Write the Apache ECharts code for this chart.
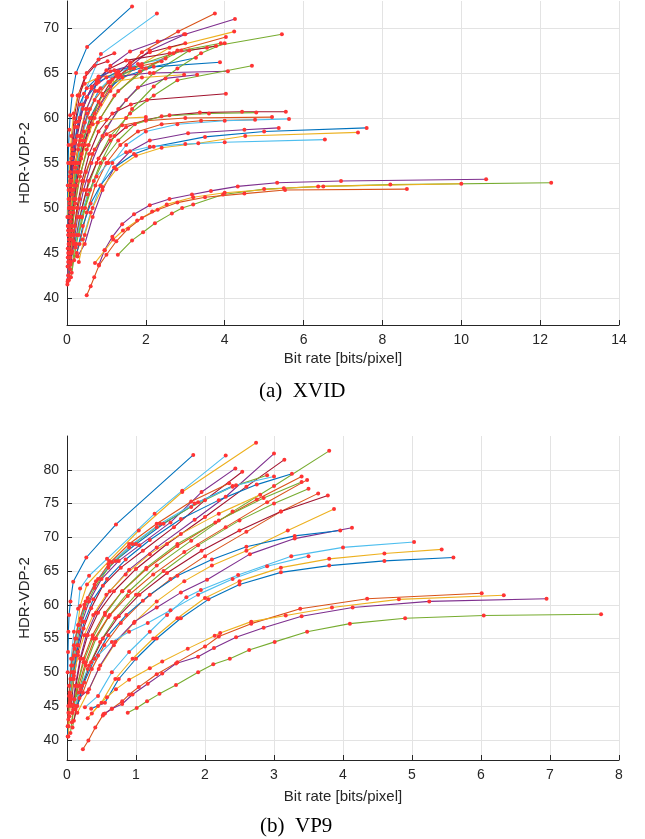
<!DOCTYPE html>
<html><head><meta charset="utf-8">
<script src="https://cdn.jsdelivr.net/npm/echarts@6/dist/echarts.min.js"></script>
<style>html,body{margin:0;padding:0;background:#fff}#c{width:645px;height:839px}</style>
</head><body><div id="c"></div>
<script>
// ---------- DATA ----------
const xTicksXvid = [0, 2, 4, 6, 8, 10, 12, 14];
const xTicksVp9 = [0, 1, 2, 3, 4, 5, 6, 7, 8];
const yTicksXvid = [40, 45, 50, 55, 60, 65, 70];
const yTicksVp9 = [40, 45, 50, 55, 60, 65, 70, 75, 80];
const xLabel = 'Bit rate [bits/pixel]';
const yLabel = 'HDR-VDP-2';
const captions = ['(a)  XVID', '(b)  VP9'];

// XVID curves: [bit rate, HDR-VDP-2]
const xvidCurves = [
 [[0.01,49],[0.02,52.5],[0.03,55],[0.04,57],[0.06,58.7],[0.08,60.3],[0.13,62.5],[0.23,65],[0.51,67.9],[1.65,72.4]],
 [[0.02,48],[0.04,51],[0.07,53.5],[0.11,55.5],[0.18,57.2],[0.28,59.6],[0.43,62.7],[0.86,67.1],[2.28,71.6]],
 [[0.04,42.5],[0.09,47],[0.14,50],[0.2,52.5],[0.3,55],[0.45,57.5],[0.7,60.5],[1.1,63.5],[1.9,67.3],[2.82,69.6],[3.75,71.6]],
 [[0.05,42],[0.1,46.5],[0.16,49.5],[0.24,52.5],[0.36,55.5],[0.55,58.5],[0.85,61.5],[1.35,64.8],[2.1,67.5],[3.0,69.3],[4.26,71.0]],
 [[0.08,43.2],[0.17,47],[0.27,50],[0.42,53],[0.65,56],[1.0,59],[1.5,62],[2.2,65],[3.1,67.5],[5.45,69.3]],
 [[0.07,45],[0.12,48],[0.19,51],[0.3,54],[0.46,57],[0.7,60],[1.1,63],[1.7,65.5],[2.6,67.8],[4.24,69.6]],
 [[0.08,44.5],[0.13,47.5],[0.21,50.5],[0.33,53.5],[0.5,56.5],[0.78,59.5],[1.2,62.5],[1.85,65.2],[2.8,67.5],[4.03,69.0]],
 [[0.04,46],[0.07,49],[0.11,52],[0.17,55],[0.26,58],[0.4,61],[0.63,63.5],[1.0,65.3],[1.5,66.4],[2.6,67.2],[3.55,67.8],[3.78,68.0]],
 [[0.05,45.5],[0.09,48.5],[0.14,51.5],[0.22,54.5],[0.34,57.5],[0.52,60.5],[0.8,63],[1.25,64.7],[1.9,65.6],[3.88,66.2]],
 [[0.06,45],[0.1,48],[0.16,51],[0.25,54],[0.38,57],[0.58,60],[0.9,62.7],[1.4,64.5],[2.2,65.7],[3.27,66.7]],
 [[0.04,47],[0.07,50],[0.11,53],[0.17,56],[0.26,59],[0.4,61.5],[0.62,63.3],[1.0,64.5],[2.1,65.0],[4.08,65.2]],
 [[0.1,42.3],[0.2,46],[0.32,49],[0.5,52],[0.75,55],[1.1,58],[1.6,60.5],[2.2,62.5],[2.8,64.2],[4.69,65.8]],
 [[0.05,46],[0.09,49],[0.14,52],[0.21,55],[0.32,58],[0.48,61],[0.72,63],[1.1,64],[1.9,64.5],[2.97,64.8]],
 [[0.1,44],[0.16,47],[0.25,50],[0.38,53],[0.56,56],[0.8,58.5],[1.15,60.5],[1.62,61.5],[2.03,62.0],[4.03,62.7]],
 [[0.13,45.2],[0.25,47],[0.38,50],[0.55,53],[0.8,55.5],[1.1,57.5],[1.5,59.0],[2.0,59.8],[2.6,60.3],[3.37,60.6],[4.44,60.7],[5.55,60.7]],
 [[0.12,45],[0.2,48],[0.32,51],[0.48,54],[0.7,56.5],[1.0,58.2],[1.4,59.2],[2.0,59.7],[3.0,60.0],[5.2,60.1]],
 [[0.18,44.2],[0.32,46],[0.5,49.5],[0.72,52.5],[1.0,55],[1.35,57],[1.8,58.5],[2.4,59.3],[3.4,59.7],[4.77,59.8]],
 [[0.22,45.6],[0.4,46.5],[0.6,49.5],[0.85,52.5],[1.15,55],[1.5,57],[2.0,58.5],[2.8,59.3],[4.0,59.7],[5.63,59.9]],
 [[0.16,46.3],[0.3,47],[0.46,50],[0.68,53],[0.95,55.5],[1.3,57.5],[1.72,59.3],[2.4,60.2],[3.6,60.5],[4.8,60.6]],
 [[0.27,44.6],[0.45,46],[0.65,49],[0.9,52],[1.2,54.5],[1.6,56.3],[2.1,57.5],[3.07,58.3],[4.5,58.7],[5.37,58.9]],
 [[0.25,45],[0.4,48],[0.6,50.5],[0.85,52.5],[1.2,54.5],[1.7,56.0],[2.2,56.8],[3.5,57.9],[5.0,58.5],[7.6,58.9]],
 [[0.3,44],[0.45,47],[0.65,50],[0.9,52.3],[1.25,54.3],[1.75,55.8],[2.4,56.7],[3.33,57.2],[4.52,58.0],[7.38,58.4]],
 [[0.22,46],[0.35,49],[0.52,51.5],[0.75,53.5],[1.05,55],[1.5,56.2],[2.1,56.8],[3.0,57.1],[4.0,57.3],[6.54,57.6]],
 [[0.81,43.7],[0.95,45.3],[1.15,46.8],[1.4,48.2],[1.7,49.3],[2.1,50.3],[2.6,51.0],[3.17,51.5],[3.65,51.9],[4.33,52.4],[5.33,52.8],[6.95,53.0],[10.63,53.2]],
 [[1.29,44.8],[1.65,46.4],[1.93,47.3],[2.23,48.3],[2.66,49.4],[2.92,50.0],[3.2,50.4],[3.96,51.5],[5.0,52.1],[6.5,52.4],[8.2,52.6],[12.28,52.8]],
 [[0.71,43.9],[0.96,45.3],[1.17,46.5],[1.42,47.5],[1.78,48.6],[2.16,49.6],[2.53,50.4],[3.2,51.2],[4.0,51.7],[5.5,52.2],[6.37,52.4],[10.0,52.7]],
 [[0.5,40.3],[0.6,41.3],[0.69,42.3],[0.81,43.6],[1.0,44.8],[1.25,46.3],[1.55,47.7],[1.9,48.9],[2.3,49.8],[2.8,50.6],[3.5,51.2],[4.5,51.6],[5.53,52.0],[8.62,52.1]],
 [[0.08,45],[0.14,48],[0.22,51],[0.35,54],[0.55,57],[0.85,60],[1.3,63],[2.0,65.5],[2.9,67.5],[3.9,68.3]],
 [[0.05,46],[0.09,49],[0.14,52],[0.22,55],[0.33,58],[0.5,61],[0.75,63.8],[1.1,65.8],[1.6,67.4],[2.3,68.5],[2.97,69.3]],
 [[0.03,48],[0.05,51],[0.08,54],[0.12,57],[0.18,60],[0.28,62.5],[0.45,64.5],[0.7,65.8],[1.03,66.3]],
 [[0.06,46],[0.1,49],[0.16,52],[0.25,55],[0.38,58],[0.58,61],[0.85,63.3],[1.25,65],[1.8,66],[2.5,66.6]],
 [[0.12,42.8],[0.24,46],[0.38,49],[0.58,52],[0.85,55],[1.2,58],[1.65,61],[2.2,63.5],[2.8,65.5],[3.4,67.2],[4.0,68.3]],
 [[0.03,47],[0.05,50],[0.08,53],[0.13,56],[0.2,59],[0.32,61.5],[0.5,63.3],[0.8,64.6],[1.2,65.3],[1.85,65.8]],
 [[0.02,49],[0.04,52],[0.07,55],[0.11,58],[0.17,60.5],[0.27,62.5],[0.45,63.8],[0.8,64.5],[1.3,64.9]],
 [[0.06,44],[0.1,47],[0.16,50],[0.25,53],[0.37,56],[0.55,59],[0.8,61.8],[1.15,64.3],[1.6,66.2],[2.1,67.3],[3.0,68.3]],
 [[0.09,43.7],[0.17,46],[0.27,49],[0.42,52],[0.62,55],[0.9,58],[1.3,61],[1.8,63.4],[2.5,64.4],[3.3,64.8]],
 [[0.01,41.5],[0.015,43.5],[0.02,45.5],[0.03,47.5],[0.05,50],[0.08,52.5],[0.13,55],[0.2,57.5],[0.32,60],[0.5,62.3],[0.8,64],[1.3,65.2]],
 [[0.02,42],[0.035,44.5],[0.055,47],[0.085,49.5],[0.13,52],[0.2,54.5],[0.3,57],[0.45,59.5],[0.7,62],[1.05,64],[1.6,65.5],[2.4,66.3]],
 [[0.03,42.5],[0.05,45],[0.08,47.5],[0.12,50],[0.18,52.5],[0.27,55],[0.4,57.5],[0.6,60],[0.9,62.5],[1.3,64.5],[1.9,66],[2.7,67.2]],
 [[0.03,44],[0.05,46.5],[0.08,49],[0.12,51.5],[0.18,54],[0.28,56.5],[0.43,58.5],[0.65,59.3],[1.0,59.8],[1.5,60.0],[2.0,60.1]],
 [[0.015,41.8],[0.03,45],[0.045,47.5],[0.07,50],[0.1,52.5],[0.15,55],[0.22,57.5],[0.33,60],[0.5,62.3],[0.75,64.2],[1.1,65.2],[1.6,65.8]],
 [[0.02,44.5],[0.04,47.5],[0.06,50.5],[0.09,53.5],[0.14,56.5],[0.21,59.5],[0.32,62.5],[0.5,65],[0.8,66.5],[1.2,67.2]]
];
const xvidColorIdx = [0,5,1,3,4,2,1,6,0,0,3,4,2,6,6,1,1,5,4,3,0,2,5,3,4,2,1,4,3,6,5,4,0,2,6,3,0,1,4,2,3,6];

// VP9 curves: [bit rate, HDR-VDP-2]
const vp9Curves = [
 [[0.01,50],[0.015,53],[0.02,56],[0.03,58.5],[0.05,60.5],[0.09,63.4],[0.28,67.0],[0.71,71.9],[1.83,82.2]],
 [[0.03,48],[0.06,52],[0.1,56],[0.16,59.4],[0.19,62.4],[0.32,64.3],[0.58,66.8],[1.27,73.5],[1.67,76.9],[2.3,82.1]],
 [[0.04,47],[0.08,51],[0.13,55],[0.19,59.8],[0.29,63.0],[0.61,66.5],[1.04,71.0],[1.67,76.7],[2.74,84.0]],
 [[0.05,46],[0.09,50],[0.15,54],[0.22,57.5],[0.32,60.5],[0.5,63.8],[0.75,66.5],[1.05,68.8],[1.5,72.2],[1.95,76.7],[2.44,80.2]],
 [[0.06,45],[0.1,49],[0.16,53],[0.24,56.5],[0.35,59.5],[0.52,62.8],[0.78,65.5],[1.1,68],[1.55,71.5],[2.0,75.5],[2.54,79.7]],
 [[0.07,44],[0.12,48],[0.19,52],[0.28,55.5],[0.42,58.8],[0.62,62],[0.9,65.2],[1.3,68.5],[1.85,72.6],[2.3,76],[3.0,82.4]],
 [[0.08,44],[0.13,48],[0.2,52],[0.3,55.5],[0.45,58.8],[0.68,62],[1.0,65.3],[1.45,69],[2.0,73],[2.6,77.5],[3.15,81.5]],
 [[0.08,41.8],[0.17,47],[0.27,51],[0.42,55],[0.62,58.5],[0.9,62],[1.3,65.8],[1.8,69.5],[2.4,73.8],[3.0,77.6],[3.8,82.8]],
 [[0.06,46],[0.1,50],[0.16,54],[0.25,57.5],[0.38,60.8],[0.58,63.8],[0.85,66.7],[1.2,69.6],[1.65,72.7],[2.2,75.5],[2.75,77.8],[3.26,79.4]],
 [[0.07,42.6],[0.15,48],[0.24,52],[0.37,55.5],[0.55,58.8],[0.8,62],[1.15,65.3],[1.6,68.7],[2.15,72.2],[2.75,75.6],[3.4,79.0]],
 [[0.09,45.2],[0.17,48],[0.27,51.5],[0.4,55],[0.6,58.2],[0.88,61.3],[1.25,64.5],[1.7,67.8],[2.3,71.5],[2.9,75.2],[3.48,78.5]],
 [[0.11,46],[0.2,47.5],[0.32,51],[0.48,54.5],[0.7,58],[1.0,61.5],[1.4,65],[1.9,68.8],[2.5,72.5],[3.0,75],[3.5,77.2]],
 [[0.12,44.5],[0.23,47],[0.36,50.5],[0.54,54],[0.78,57.3],[1.1,60.6],[1.5,63.8],[2.0,67.2],[2.6,70.8],[3.1,73.8],[3.64,76.5]],
 [[0.1,42.8],[0.22,48],[0.35,51.5],[0.52,55],[0.75,58.3],[1.05,61.5],[1.45,64.7],[1.95,68],[2.5,71],[3.1,73.8],[3.78,76.2]],
 [[0.15,44],[0.3,47],[0.46,50.5],[0.68,54],[0.97,57.3],[1.3,60.5],[1.7,63.5],[2.1,65.8],[2.6,68],[3.2,71],[3.87,74.2]],
 [[0.18,46.2],[0.32,47.5],[0.48,51],[0.7,54.5],[0.98,57.5],[1.3,59.6],[1.65,61.8],[2.03,63.7],[2.65,67.5],[3.3,69.8],[4.13,71.4]],
 [[0.15,45],[0.25,48.5],[0.4,52],[0.6,55.5],[0.86,58.5],[1.2,61.5],[1.6,64.3],[2.1,66.7],[2.6,68.6],[3.3,70.2],[3.96,71.0]],
 [[0.26,44.8],[0.45,46.5],[0.65,50],[0.9,53],[1.2,56],[1.45,58.5],[1.73,61.1],[1.94,62.2],[2.48,64.4],[3.25,67.2],[4.0,68.5],[5.03,69.3]],
 [[0.3,43.2],[0.5,45.5],[0.7,49],[0.95,52],[1.25,55],[1.6,58],[2.0,61],[2.5,63.5],[3.1,65.5],[3.8,66.8],[4.6,67.6],[5.43,68.2]],
 [[0.35,44.6],[0.55,45.5],[0.75,49],[1.0,52],[1.3,55],[1.65,58],[2.05,60.8],[2.5,63],[3.1,64.8],[3.8,65.8],[4.6,66.5],[5.6,67.0]],
 [[0.23,38.6],[0.31,39.9],[0.41,41.8],[0.53,43.8],[0.65,44.6],[0.8,45.7],[0.9,46.7],[1.04,47.8],[1.3,49.7],[1.6,51.5],[2.0,53.8],[2.2,55.3],[2.67,57.2],[3.38,59.4],[4.35,60.9],[6.01,61.7]],
 [[0.36,43.9],[0.45,45.0],[0.58,46.3],[0.71,47.5],[0.9,48.9],[1.2,50.6],[1.38,51.6],[1.75,53.5],[2.14,55.4],[2.22,55.8],[2.67,57.5],[3.17,58.4],[3.84,59.6],[4.81,60.8],[6.33,61.4]],
 [[0.52,43.6],[0.55,43.9],[0.65,44.6],[0.8,45.3],[0.95,46.7],[1.17,48.3],[1.38,49.8],[1.58,51.3],[1.9,52.3],[2.13,53.6],[2.45,55.2],[2.85,56.6],[3.4,58.3],[4.14,59.6],[5.25,60.5],[6.95,60.9]],
 [[0.88,44.0],[1.01,44.7],[1.16,45.7],[1.34,46.8],[1.58,48.1],[1.9,50.0],[2.12,51.2],[2.36,52.0],[2.64,53.3],[3.01,54.5],[3.48,56.0],[4.1,57.2],[4.9,58.0],[6.04,58.4],[7.74,58.6]],
 [[0.12,45],[0.2,48],[0.3,50.5],[0.45,52.5],[0.65,54.5],[0.9,56],[1.17,57.3],[1.5,59.2],[1.9,61.5],[2.4,63.8],[2.9,65.7],[3.5,67.2]],
 [[0.01,40.5],[0.015,42],[0.02,44],[0.03,46.5],[0.05,49],[0.08,52],[0.12,55],[0.2,58],[0.3,61],[0.45,63.8],[0.7,66.5],[1.0,69.0],[1.4,72],[1.9,75.2],[2.4,77.6]],
 [[0.02,42],[0.04,45.5],[0.07,49],[0.11,52.5],[0.17,56],[0.26,59.5],[0.4,62.5],[0.6,65.5],[0.9,68.5],[1.3,71.5],[1.8,74.5],[2.4,77.5],[2.9,79.2]],
 [[0.02,43],[0.04,46.5],[0.07,50],[0.11,53.5],[0.17,57],[0.27,60.5],[0.42,63.5],[0.65,66.3],[0.95,69],[1.35,72],[1.85,75],[2.45,77.7],[3.0,79.0]],
 [[0.01,42],[0.02,45],[0.035,48],[0.06,51],[0.1,54],[0.16,57],[0.25,60],[0.4,63],[0.6,66],[0.9,69],[1.3,72],[1.8,75.3],[2.35,78]],
 [[0.02,40.5],[0.035,43.5],[0.06,46.5],[0.1,49.5],[0.16,52.5],[0.25,55.5],[0.38,58.5],[0.57,61.5],[0.85,64.5],[1.2,67.5],[1.65,70.5],[2.2,73.5],[2.8,76.3]],
 [[0.05,41],[0.09,44.5],[0.15,48],[0.24,51.5],[0.37,55],[0.55,58.5],[0.8,62],[1.15,65.5],[1.6,69],[2.2,72.5],[2.85,75.8],[3.4,78.2]]
];
const vp9ColorIdx = [0,5,2,3,6,3,6,4,0,1,1,4,1,6,2,3,0,5,2,0,1,2,3,4,5,0,4,5,1,2,4];

// ---------- STYLE ----------
const palette = ['#0072BD','#D95319','#EDB120','#7E2F8E','#77AC30','#4DBEEE','#A2142F'];
const markerColor = '#ff3434';
const axisColor = '#262626';
const gridColor = '#e3e3e3';
const sansFont = 'Liberation Sans, Arial, Helvetica, sans-serif';
const serifFont = 'Liberation Serif, Times New Roman, serif';

function xAxis(idx, max, interval, gap) {
  return {
    type: 'value', gridIndex: idx, min: 0, max: max, interval: interval,
    name: xLabel, nameLocation: 'middle', nameGap: gap,
    nameTextStyle: {color: axisColor, fontSize: 15, fontFamily: sansFont},
    axisLine: {show: true, onZero: false, lineStyle: {color: axisColor, width: 1}},
    axisTick: {show: true, inside: true, length: 5, lineStyle: {color: axisColor}},
    axisLabel: {color: axisColor, fontSize: 14, fontFamily: sansFont, margin: 8},
    splitLine: {show: true, lineStyle: {color: gridColor, width: 1}}
  };
}
function yAxis(idx, min, max, ticks) {
  return {
    type: 'value', gridIndex: idx, min: min, max: max,
    name: yLabel, nameLocation: 'middle', nameGap: 32, nameRotate: 90,
    nameTextStyle: {color: axisColor, fontSize: 15, fontFamily: sansFont},
    axisLine: {show: true, onZero: false, lineStyle: {color: axisColor, width: 1}},
    axisTick: {show: true, inside: true, length: 5, lineStyle: {color: axisColor}, customValues: ticks},
    axisLabel: {color: axisColor, fontSize: 14, fontFamily: sansFont, margin: 8, customValues: ticks},
    splitLine: {show: true, lineStyle: {color: gridColor, width: 1}, customValues: ticks}
  };
}

const series = [];
function addCurves(curves, colorIdx, gi) {
  curves.forEach((c, i) => {
    series.push({
      type: 'line', xAxisIndex: gi, yAxisIndex: gi, data: c,
      showSymbol: false, symbol: 'none', silent: true,
      lineStyle: {color: palette[colorIdx[i] % palette.length], width: 1.1}, z: 2
    });
  });
  curves.forEach((c) => {
    series.push({
      type: 'scatter', xAxisIndex: gi, yAxisIndex: gi, data: c,
      symbol: 'circle', symbolSize: 4, silent: true,
      itemStyle: {color: markerColor, opacity: 1}, z: 3
    });
  });
}
addCurves(xvidCurves, xvidColorIdx, 0);
addCurves(vp9Curves, vp9ColorIdx, 1);

const chart = echarts.init(document.getElementById('c'), null, {renderer: 'canvas'});
chart.setOption({
  animation: false,
  backgroundColor: '#ffffff',
  grid: [
    {left: 67, top: 1, width: 552, height: 324},
    {left: 67, top: 436, width: 552, height: 324}
  ],
  xAxis: [xAxis(0, xTicksXvid[xTicksXvid.length-1], 2, 26), xAxis(1, xTicksVp9[xTicksVp9.length-1], 1, 29)],
  yAxis: [yAxis(0, 37, 73, yTicksXvid), yAxis(1, 37, 85, yTicksVp9)],
  graphic: [
    {type: 'text', left: 259, top: 381, style: {text: captions[0], font: '21px ' + serifFont, fill: '#000'}},
    {type: 'text', left: 260, top: 816, style: {text: captions[1], font: '21px ' + serifFont, fill: '#000'}}
  ],
  series: series
});
</script></body></html>
